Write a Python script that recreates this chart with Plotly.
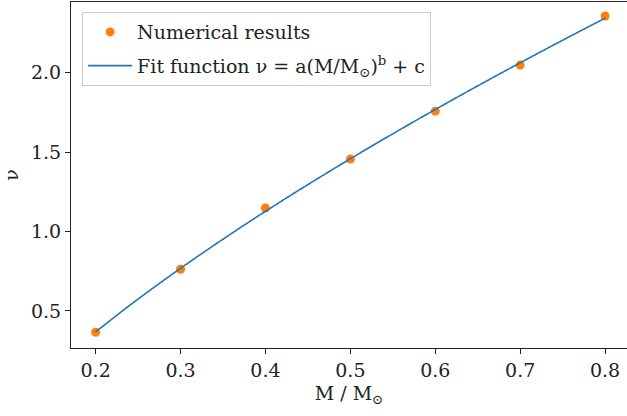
import numpy as np
import plotly.graph_objects as go

# Data
mass = [0.2, 0.3, 0.4, 0.5, 0.6, 0.7, 0.8]
nu = [0.366, 0.763, 1.148, 1.456, 1.758, 2.048, 2.357]
x_ticks = [0.2, 0.3, 0.4, 0.5, 0.6, 0.7, 0.8]
y_ticks = [0.5, 1.0, 1.5, 2.0]

# Least-squares fit of nu = a*M^b + c (grid over b, linear solve for a, c)
m = np.array(mass)
v = np.array(nu)
best = None
for b in np.linspace(0.3, 2.0, 1701):
    A = np.vstack([m ** b, np.ones_like(m)]).T
    coef, *_ = np.linalg.lstsq(A, v, rcond=None)
    res = np.sum((A @ coef - v) ** 2)
    if best is None or res < best[0]:
        best = (res, coef[0], b, coef[1])
_, a_fit, b_fit, c_fit = best
x_fit = np.linspace(min(mass), max(mass), 400)
y_fit = a_fit * x_fit ** b_fit + c_fit

FONT = "DejaVu Serif"
FS = 19

fig = go.Figure()
fig.add_trace(go.Scatter(
    x=mass, y=nu, mode="markers", name="Numerical results",
    marker=dict(color="#ff7f0e", size=9), legendgroup="a",
))
fig.add_trace(go.Scatter(
    x=x_fit, y=y_fit, mode="lines",
    name="Fit function ν = a(M/M<sub>⊙</sub>)<sup>b</sup> + c",
    line=dict(color="#1f77b4", width=1.6, simplify=False), legendgroup="b",
))

axis_common = dict(
    showgrid=False, zeroline=False, showline=True, linecolor="#222",
    linewidth=1, mirror=True, ticks="outside", ticklen=5, tickcolor="#222",
    tickfont=dict(family=FONT, size=FS, color="#222"), automargin=False,
)
fig.update_xaxes(range=[0.171, 0.8258], tickvals=x_ticks,
                 ticktext=[f"{t:.1f}" for t in x_ticks],
                 title=dict(text="M / M<sub>⊙</sub>", font=dict(family=FONT, size=FS, color="#222"), standoff=6),
                 **axis_common)
fig.update_yaxes(range=[0.267, 2.445], tickvals=y_ticks,
                 ticktext=[f"{t:.1f}" for t in y_ticks],
                 title=dict(text="ν", font=dict(family=FONT, size=FS, color="#222"), standoff=14),
                 **axis_common)

fig.update_layout(
    width=627, height=416,
    margin=dict(l=71, r=0, t=2, b=68),
    plot_bgcolor="white", paper_bgcolor="white",
    font=dict(family=FONT, size=FS, color="#222"),
    showlegend=True,
    legend=dict(x=0.02, y=0.971, xanchor="left", yanchor="top",
                bgcolor="rgba(255,255,255,0.8)", bordercolor="#ccc", borderwidth=1,
                font=dict(family=FONT, size=FS, color="#222"),
                tracegroupgap=6, itemwidth=44),
)

fig.write_html(
    "out.html",
    config={"displayModeBar": False},
    post_script="document.body.style.margin='0';document.body.style.overflow='hidden';",
)
